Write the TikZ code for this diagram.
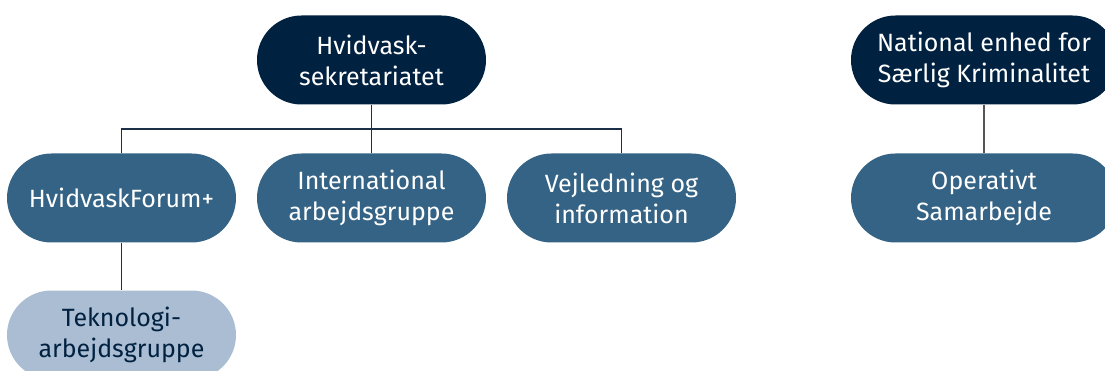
\documentclass[tikz,border=0pt]{standalone}
\usepackage{fontspec}
\setmainfont{Fira Sans}
\definecolor{navy}{HTML}{012141}
\definecolor{midblue}{HTML}{346385}
\definecolor{lightblue}{HTML}{AABDD2}
\definecolor{linecol}{HTML}{1C2F48}
\definecolor{graycol}{HTML}{555555}
\begin{document}
\begin{tikzpicture}[x=1pt,y=-1pt,
  pill/.style={rectangle, rounded corners=44.5pt, minimum width=229pt, minimum height=89pt,
    align=center, inner sep=0pt, font=\fontsize{25}{31}\selectfont},
  dark/.style={pill, fill=navy, text=white},
  mid/.style={pill, fill=midblue, text=white},
  light/.style={pill, fill=lightblue, text=navy},
  conn/.style={draw=linecol, line width=1.2pt},
  conngray/.style={draw=graycol, line width=1.2pt}]
\useasboundingbox (0,0) rectangle (1105,371);
\clip (0,0) rectangle (1105,371);
\node[dark] (top) at (371.5,60) {Hvidvask-\\sekretariatet};
\node[mid] (forum) at (121.5,198) {HvidvaskForum+};
\node[mid] (intl) at (371.5,198) {International\\arbejdsgruppe};
\node[mid] (vej) at (621.5,198) {Vejledning og\\information};
\node[light] (tek) at (121.5,335) {Teknologi-\\arbejdsgruppe};
\node[dark, minimum width=266pt] (nat) at (984,60) {National enhed for\\Særlig Kriminalitet};
\node[mid, minimum width=266pt] (op) at (984,198) {Operativt\\Samarbejde};
\coordinate (j) at (371.5,129);
\draw[conn] (top.south) -- (intl.north);
\draw[conn] (forum.north) |- (j) -| (vej.north);
\draw[conn] (forum.south) -- (tek.north);
\draw[conngray] (nat.south) -- (op.north);
\end{tikzpicture}
\end{document}
